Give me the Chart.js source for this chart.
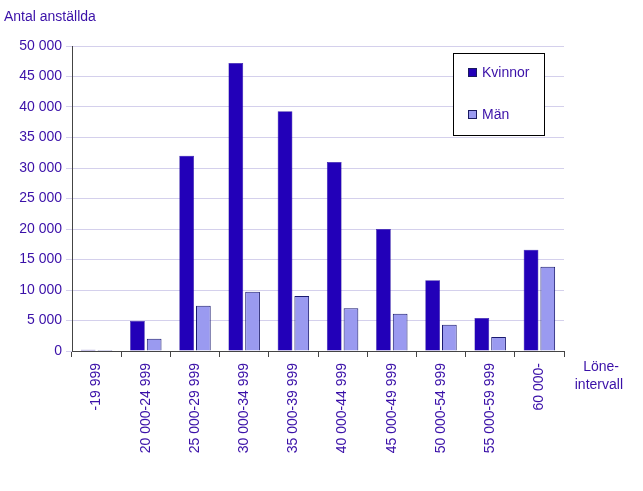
<!DOCTYPE html>
<html><head><meta charset="utf-8">
<script src="https://cdn.jsdelivr.net/npm/chart.js@4"></script>
<style>body{margin:0;background:#fff}#wrap{width:643px;height:491px}</style>
</head><body><div id="wrap"><canvas id="c"></canvas></div>
<script>
const categories = ['-19 999','20 000-24 999','25 000-29 999','30 000-34 999','35 000-39 999','40 000-44 999','45 000-49 999','50 000-54 999','55 000-59 999','60 000-'];
const kvinnor = [200, 4900, 32000, 47200, 39300, 31000, 20000, 11600, 5400, 16600];
const man = [150, 2000, 7400, 9700, 9000, 7000, 6100, 4300, 2300, 13800];
const yTicks = [0, 5000, 10000, 15000, 20000, 25000, 30000, 35000, 40000, 45000, 50000];
const txt = '#3a10a8';
const font = {family: 'Liberation Sans, Arial, sans-serif', size: 14};

const extras = {
    id: 'extras',
    afterDraw(chart) {
        const ctx = chart.ctx;
        ctx.save();
        ctx.font = '14px Liberation Sans, Arial';
        ctx.fillStyle = txt;
        ctx.textBaseline = 'alphabetic';
        ctx.fillText('Antal anställda', 4, 21);
        ctx.textAlign = 'right';
        ctx.fillText('Löne-', 619, 371);
        ctx.fillText('intervall', 623, 389);
        // legend box
        ctx.strokeStyle = '#000'; ctx.lineWidth = 1;
        ctx.fillStyle = '#fff';
        ctx.fillRect(453.5, 53.5, 91, 82);
        ctx.strokeRect(453.5, 53.5, 91, 82);
        chart.data.datasets.forEach((ds, i) => {
            const y = 73 + i * 42;
            ctx.fillStyle = ds.backgroundColor;
            ctx.fillRect(468, y - 5, 9, 9);
            ctx.strokeStyle = '#1a1a60';
            ctx.strokeRect(468.5, y - 4.5, 8, 8);
            ctx.fillStyle = txt; ctx.textAlign = 'left'; ctx.textBaseline = 'middle';
            ctx.fillText(ds.label, 482, y);
        });
        ctx.restore();
    }
};

new Chart(document.getElementById('c'), {
    type: 'bar',
    data: {
        labels: categories,
        datasets: [
            {label: 'Kvinnor', data: kvinnor, backgroundColor: '#2200b8', borderColor: '#1a0090', borderWidth: 0.5},
            {label: 'Män', data: man, backgroundColor: '#9a9af0', borderColor: '#1a1a70', borderWidth: 1}
        ]
    },
    options: {
        responsive: true, maintainAspectRatio: false, animation: false,
        layout: {padding: {top: 46, right: 79, left: 0, bottom: 0}},
        plugins: {legend: {display: false}, tooltip: {enabled: false}},
        datasets: {bar: {categoryPercentage: 0.68, barPercentage: 0.88}},
        scales: {
            x: {
                afterFit: s => { s.height = 140; },
                grid: {display: true, drawOnChartArea: false, offset: true, color: '#444', tickLength: 6},
                border: {color: '#444'},
                ticks: {color: txt, font: font, maxRotation: 90, minRotation: 90, padding: 6}
            },
            y: {
                min: 0, max: 50000,
                afterFit: s => { s.width = 72; },
                afterBuildTicks: s => { s.ticks = yTicks.map(v => ({value: v})); },
                grid: {color: '#d4d0ec', tickLength: 6},
                border: {color: '#444'},
                ticks: {color: txt, font: font, padding: 4,
                    callback: v => v.toLocaleString('en-US').replace(/,/g, ' ')}
            }
        }
    },
    plugins: [extras]
});
</script></body></html>
